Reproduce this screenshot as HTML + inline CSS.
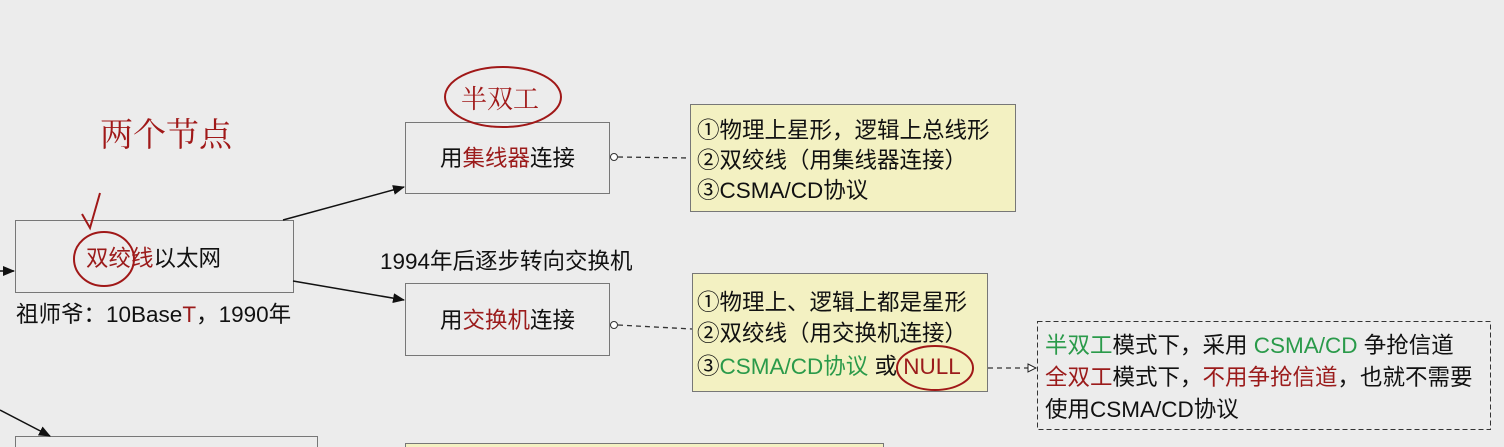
<!DOCTYPE html>
<html><head><meta charset="utf-8"><style>
body{margin:0;background:#ececec;}
svg{display:block;font-family:"Liberation Sans","Noto Sans CJK SC",sans-serif;}
</style></head><body>
<svg width="1504" height="447" viewBox="0 0 1504 447">
<defs>
<marker id="a" markerWidth="12" markerHeight="10" refX="11" refY="5" orient="auto" markerUnits="userSpaceOnUse"><path d="M0,0 L12,5 L0,10z" fill="#111"/></marker>
<marker id="o" markerWidth="10" markerHeight="10" refX="9" refY="5" orient="auto" markerUnits="userSpaceOnUse"><path d="M1,1 L9,5 L1,9z" fill="#fff" stroke="#222"/></marker>
</defs>
<rect width="1504" height="447" fill="#ececec"/>
<rect x="15.5" y="220.5" width="278" height="72" fill="#ececec" stroke="#777"/>
<rect x="405.5" y="122.5" width="204" height="71" fill="#ececec" stroke="#777"/>
<rect x="405.5" y="283.5" width="204" height="72" fill="#ececec" stroke="#777"/>
<rect x="690.5" y="104.5" width="325" height="107" fill="#f3f1c2" stroke="#777"/>
<rect x="692.5" y="273.5" width="295" height="118" fill="#f3f1c2" stroke="#777"/>
<rect x="1037.5" y="321.5" width="453" height="108" fill="#ececec" stroke="#333" stroke-dasharray="5,3"/>
<rect x="15.5" y="436.5" width="302" height="20" fill="#ececec" stroke="#777"/>
<rect x="405.5" y="443.5" width="478" height="20" fill="#f3f1c2" stroke="#777"/>
<line x1="283" y1="220" x2="404" y2="187" stroke="#111" stroke-width="1.5" marker-end="url(#a)"/>
<line x1="293" y1="281" x2="404" y2="300" stroke="#111" stroke-width="1.5" marker-end="url(#a)"/>
<line x1="0" y1="271" x2="14" y2="271" stroke="#111" stroke-width="1.5" marker-end="url(#a)"/>
<line x1="0" y1="410" x2="50" y2="436" stroke="#111" stroke-width="1.5" marker-end="url(#a)"/>
<circle cx="614" cy="157" r="3.5" fill="#fff" stroke="#333"/>
<line x1="618" y1="157" x2="690" y2="158" stroke="#333" stroke-width="1.3" stroke-dasharray="5,4"/>
<circle cx="614" cy="325" r="3.5" fill="#fff" stroke="#333"/>
<line x1="618" y1="325" x2="692" y2="329" stroke="#333" stroke-width="1.3" stroke-dasharray="5,4"/>
<line x1="988" y1="368" x2="1036" y2="368" stroke="#333" stroke-width="1.3" stroke-dasharray="5,4" marker-end="url(#o)"/>
<g font-size="22.5" fill="#111">
<text x="440" y="166">用<tspan fill="#9b1b1b">集线器</tspan>连接</text>
<text x="440" y="328">用<tspan fill="#9b1b1b">交换机</tspan>连接</text>
<text x="86" y="266"><tspan fill="#9b1b1b">双绞线</tspan>以太网</text>
<text x="16" y="322">祖师爷：10Base<tspan fill="#9b1b1b">T</tspan>，1990年</text>
<text x="380" y="269">1994年后逐步转向交换机</text>
<text x="697" y="138">①物理上星形，逻辑上总线形</text>
<text x="697" y="168">②双绞线（用集线器连接）</text>
<text x="697" y="198">③CSMA/CD协议</text>
<text x="697" y="310">①物理上、逻辑上都是星形</text>
<text x="697" y="341">②双绞线（用交换机连接）</text>
<text x="697" y="374">③<tspan fill="#2a9a4a">CSMA/CD协议</tspan> 或 <tspan fill="#9b1b1b">NULL</tspan></text>
<text x="1045" y="353"><tspan fill="#2a9a4a">半双工</tspan>模式下，采用 <tspan fill="#2a9a4a">CSMA/CD</tspan> 争抢信道</text>
<text x="1045" y="385"><tspan fill="#9b1b1b">全双工</tspan>模式下，<tspan fill="#9b1b1b">不用争抢信道</tspan>，也就不需要</text>
<text x="1045" y="417">使用CSMA/CD协议</text>
</g>
<g fill="none" stroke="#a01818" stroke-width="2">
<ellipse cx="503" cy="97" rx="58" ry="30"/>
<ellipse cx="104" cy="259" rx="30" ry="27"/>
<ellipse cx="935" cy="368" rx="38" ry="22"/>
<path d="M100 193 L90 228 L82 214"/>
</g>
<text x="461" y="108" font-size="26" fill="#a01818" font-family="'Noto Serif CJK SC',serif">半双工</text>
<text x="100" y="146" font-size="33" fill="#a01818" font-family="'Noto Serif CJK SC',serif">两个节点</text>
</svg>
</body></html>
